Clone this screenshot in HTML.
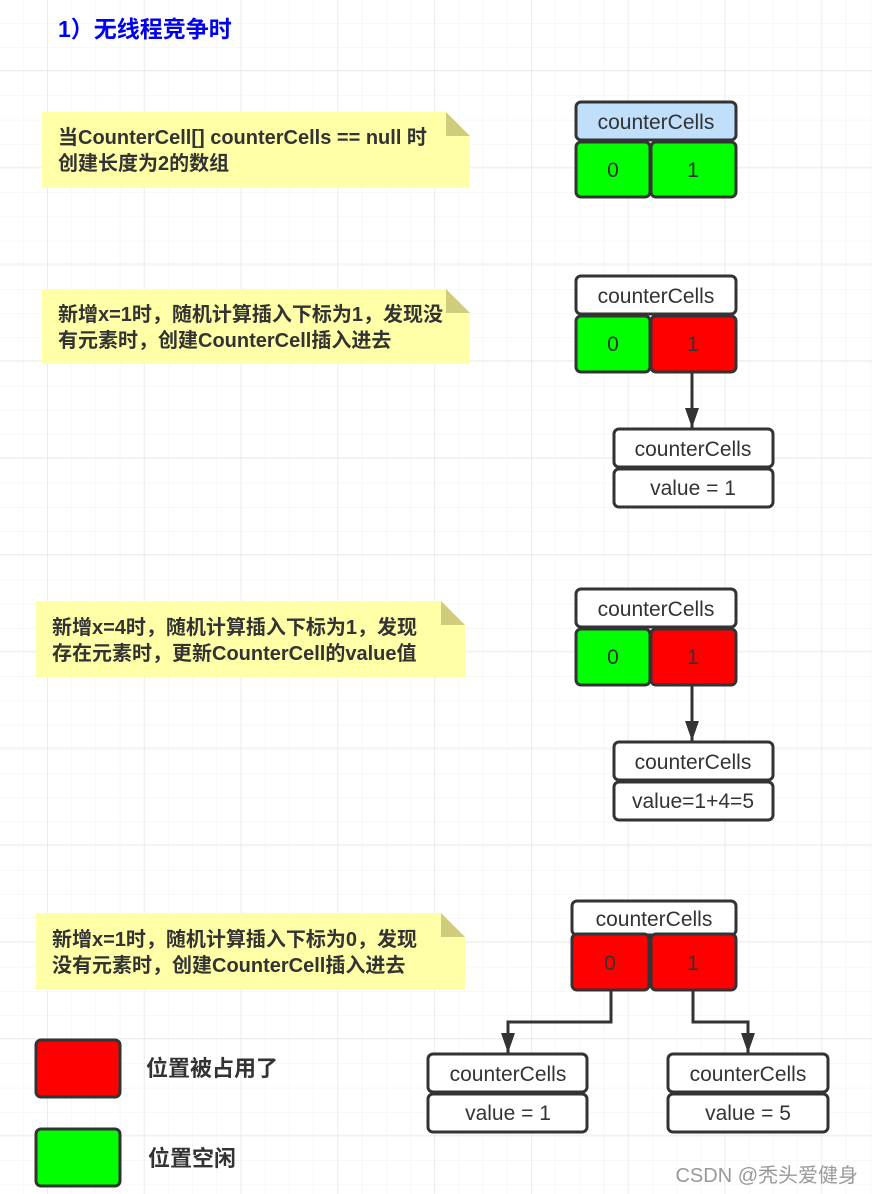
<!DOCTYPE html>
<html><head><meta charset="utf-8"><style>
html,body{margin:0;padding:0;background:#fff}
svg{display:block}
text{font-family:"Liberation Sans","Noto Sans CJK SC",sans-serif}
</style></head><body>
<svg width="872" height="1194" viewBox="0 0 872 1194" xmlns="http://www.w3.org/2000/svg">
<defs>
<pattern id="g" x="23" y="23" width="24.2" height="24.2" patternUnits="userSpaceOnUse">
<path d="M0 0H24.2M0 0V24.2" stroke="#f0f0f0" stroke-width="1" fill="none"/>
</pattern>
<pattern id="G" x="47" y="70" width="96.8" height="96.8" patternUnits="userSpaceOnUse">
<path d="M0 0H96.8M0 0V96.8" stroke="#e8e8e8" stroke-width="1.5" fill="none"/>
</pattern>
<marker id="a" markerWidth="20" markerHeight="14" refX="20" refY="7" orient="auto" markerUnits="userSpaceOnUse" viewBox="0 0 20 14"><path d="M0 0L20 7L0 14Z" fill="#333"/></marker>
</defs>
<rect width="872" height="1194" fill="url(#g)"/>
<rect width="872" height="1194" fill="url(#G)"/>
<text x="58" y="37" font-size="23" font-weight="bold" fill="#0000ee">1）无线程竞争时</text>

<g font-size="20" fill="#333" font-weight="bold">
<path d="M42 112H446L470 136V188H42Z" fill="#ffffa8"/><path d="M446 112L470 136H446Z" fill="#cfcd7b"/>
<text x="58" y="144">当CounterCell[] counterCells == null 时</text>
<text x="58" y="170">创建长度为2的数组</text>
<path d="M42 289H446L470 313V364H42Z" fill="#ffffa8"/><path d="M446 289L470 313H446Z" fill="#cfcd7b"/>
<text x="58" y="321">新增x=1时，随机计算插入下标为1，发现没</text>
<text x="58" y="347">有元素时，创建CounterCell插入进去</text>
<path d="M36 601H441L465 625V677H36Z" fill="#ffffa8"/><path d="M441 601L465 625H441Z" fill="#cfcd7b"/>
<text x="52" y="634">新增x=4时，随机计算插入下标为1，发现</text>
<text x="52" y="660">存在元素时，更新CounterCell的value值</text>
<path d="M36 913H441L465 937V990H36Z" fill="#ffffa8"/><path d="M441 913L465 937H441Z" fill="#cfcd7b"/>
<text x="52" y="946">新增x=1时，随机计算插入下标为0，发现</text>
<text x="52" y="972">没有元素时，创建CounterCell插入进去</text>
</g>

<g stroke="#333" stroke-width="3">
<rect x="576" y="102" width="160" height="38" rx="5" fill="#bfdffb"/>
<rect x="576" y="142" width="74" height="55" rx="5" fill="#00ff00"/>
<rect x="651" y="142" width="85" height="55" rx="5" fill="#00ff00"/>
<rect x="576" y="276" width="160" height="38" rx="5" fill="#fff"/>
<rect x="576" y="316" width="74" height="56" rx="5" fill="#00ff00"/>
<rect x="651" y="316" width="85" height="56" rx="5" fill="#ff0000"/>
<path d="M692 372V428" fill="none" marker-end="url(#a)"/>
<rect x="614" y="429" width="159" height="38" rx="5" fill="#fff"/>
<rect x="614" y="469" width="159" height="38" rx="5" fill="#fff"/>
<rect x="576" y="589" width="160" height="38" rx="5" fill="#fff"/>
<rect x="576" y="629" width="74" height="56" rx="5" fill="#00ff00"/>
<rect x="651" y="629" width="85" height="56" rx="5" fill="#ff0000"/>
<path d="M692 685V741" fill="none" marker-end="url(#a)"/>
<rect x="614" y="742" width="159" height="38" rx="5" fill="#fff"/>
<rect x="614" y="782" width="159" height="38" rx="5" fill="#fff"/>
<rect x="572" y="901" width="164" height="34" rx="5" fill="#fff"/>
<rect x="572" y="934" width="77" height="56" rx="5" fill="#ff0000"/>
<rect x="651" y="934" width="85" height="56" rx="5" fill="#ff0000"/>
<path d="M611 990V1022H508V1053" fill="none" marker-end="url(#a)"/>
<path d="M693 990V1022H748V1053" fill="none" marker-end="url(#a)"/>
<rect x="428" y="1054" width="159" height="38" rx="5" fill="#fff"/>
<rect x="428" y="1094" width="159" height="38" rx="5" fill="#fff"/>
<rect x="668" y="1054" width="160" height="38" rx="5" fill="#fff"/>
<rect x="668" y="1094" width="160" height="38" rx="5" fill="#fff"/>
<rect x="36" y="1040" width="84" height="57" rx="5" fill="#ff0000"/>
<rect x="36" y="1129" width="84" height="57" rx="5" fill="#00ff00"/>
</g>

<g font-size="21" fill="#333" text-anchor="middle">
<text x="656" y="129">counterCells</text>
<text x="613" y="177">0</text><text x="693" y="177">1</text>
<text x="656" y="303">counterCells</text>
<text x="613" y="351">0</text><text x="693" y="351">1</text>
<text x="693" y="456">counterCells</text>
<text x="693" y="495">value = 1</text>
<text x="656" y="616">counterCells</text>
<text x="613" y="664">0</text><text x="693" y="664">1</text>
<text x="693" y="769">counterCells</text>
<text x="693" y="808">value=1+4=5</text>
<text x="654" y="926">counterCells</text>
<text x="610" y="970">0</text><text x="693" y="970">1</text>
<text x="508" y="1081">counterCells</text>
<text x="508" y="1120">value = 1</text>
<text x="748" y="1081">counterCells</text>
<text x="748" y="1120">value = 5</text>
</g>
<g font-size="22" fill="#333" font-weight="bold">
<text x="146" y="1076">位置被占用了</text>
<text x="148" y="1166">位置空闲</text>
</g>
<text x="858" y="1182" font-size="20" fill="#999" text-anchor="end">CSDN @秃头爱健身</text>
</svg>
</body></html>
